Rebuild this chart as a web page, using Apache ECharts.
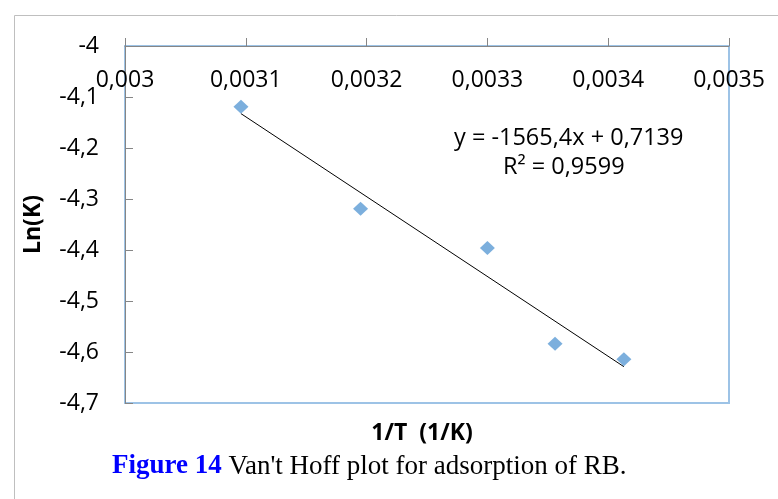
<!DOCTYPE html>
<html>
<head>
<meta charset="utf-8">
<script src="https://cdn.jsdelivr.net/npm/echarts@6/dist/echarts.min.js"></script>
<style>
html,body{margin:0;padding:0;background:#fff;}
#chart{width:778px;height:499px;}
</style>
</head>
<body>
<div id="chart"></div>
<script>
// Data
var invT = [0.003096, 0.003195, 0.003300, 0.003356, 0.003413];
var lnK = [-4.119, -4.319, -4.396, -4.584, -4.614];
var slope = -1565.4;
var intercept = 0.7139;
var rSquared = '0,9599';
var xTickLabels = ['0,003', '0,0031', '0,0032', '0,0033', '0,0034', '0,0035'];
var yTickLabels = ['-4,7', '-4,6', '-4,5', '-4,4', '-4,3', '-4,2', '-4,1', '-4'];
var xTitle = '1/T  (1/K)';
var yTitle = 'Ln(K)';
var equationText = 'y = -1565,4x + 0,7139';
var captionBold = 'Figure 14';
var captionRest = " Van't Hoff plot for adsorption of RB.";

var xMin = 0.0030, xMax = 0.0035, xStep = 0.0001;
var yMin = -4.7, yMax = -4.0, yStep = 0.1;

var xFirst = invT[0], xLast = invT[invT.length - 1];
var trend = [[xFirst, slope * xFirst + intercept], [xLast, slope * xLast + intercept]];
var scatterData = invT.map(function (x, i) { return [x, lnK[i]]; });

var sansFont = '"Open Sans", "Liberation Sans", sans-serif';
var chart = echarts.init(document.getElementById('chart'), null, {renderer: 'canvas'});
chart.setOption({
  animation: false,
  backgroundColor: '#ffffff',
  grid: {
    left: 125, top: 46, right: 49, bottom: 96,
    show: true, borderColor: '#9DC3E6', borderWidth: 2, backgroundColor: 'transparent'
  },
  title: [{
    text: xTitle,
    left: 417, top: 417, textAlign: 'center',
    textStyle: {fontFamily: sansFont, fontWeight: 'bold', fontSize: 23, color: '#000'}
  }, {
    text: '{b|' + captionBold + '}{r|' + captionRest + '}',
    left: 112, top: 453, padding: 0,
    textStyle: {
      rich: {
        b: {fontFamily: '"Liberation Serif", "Times New Roman", serif', fontWeight: 'bold', fontSize: 27, color: '#0000FF'},
        r: {fontFamily: '"Liberation Serif", "Times New Roman", serif', fontWeight: 'normal', fontSize: 27, color: '#000'}
      }
    }
  }],
  xAxis: {
    type: 'value', position: 'top',
    min: xMin, max: xMax, interval: xStep,
    axisLine: {show: true, onZero: false, lineStyle: {color: '#868686', width: 1}},
    axisTick: {show: true, inside: false, length: 8, lineStyle: {color: '#868686'}},
    axisLabel: {
      inside: true, margin: 23, fontFamily: sansFont, fontSize: 23, color: '#000',
      formatter: function (v) { return xTickLabels[Math.round((v - xMin) / xStep)]; }
    },
    splitLine: {show: false}
  },
  yAxis: {
    type: 'value',
    min: yMin, max: yMax, interval: yStep,
    name: yTitle, nameLocation: 'middle', nameRotate: 90, nameGap: 80,
    nameTextStyle: {fontFamily: sansFont, fontWeight: 'bold', fontSize: 23, color: '#000'},
    axisLine: {show: true, onZero: false, lineStyle: {color: '#868686', width: 1}},
    axisTick: {show: true, inside: true, length: 8, lineStyle: {color: '#868686'}},
    axisLabel: {
      margin: 26, fontFamily: sansFont, fontSize: 23, color: '#000',
      formatter: function (v) { return yTickLabels[Math.round((v - yMin) / yStep)]; }
    },
    splitLine: {show: false}
  },
  graphic: [{
    type: 'rect', left: 12, top: 13, z: -10,
    shape: {width: 820, height: 600},
    style: {fill: 'none', stroke: '#BFBFBF', lineWidth: 1}
  }, {
    type: 'text', left: 454, top: 126,
    style: {text: equationText, font: '23.5px "Open Sans", sans-serif', fill: '#000'}
  }, {
    type: 'text', left: 503, top: 155,
    style: {text: 'R² = ' + rSquared, font: '23.5px "Open Sans", sans-serif', fill: '#000'}
  }],
  series: [{
    type: 'line', data: trend, symbol: 'none', z: 3,
    lineStyle: {color: '#000', width: 1}
  }, {
    type: 'scatter', data: scatterData, symbol: 'diamond', symbolSize: [15, 14], z: 4,
    itemStyle: {color: '#5B9BD5'}
  }]
});
</script>
</body>
</html>
